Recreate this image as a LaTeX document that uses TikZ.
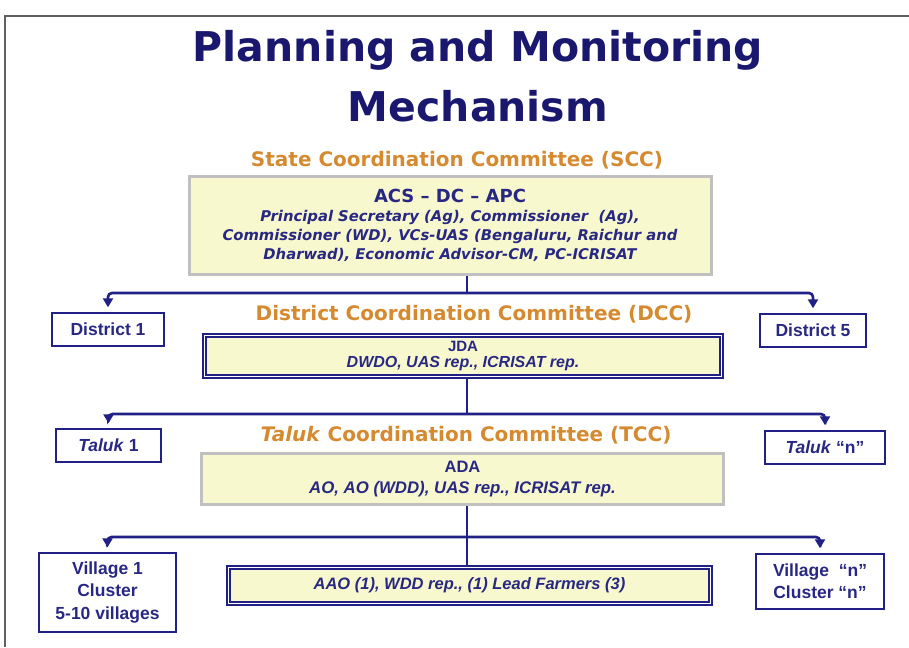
\documentclass[tikz,border=0pt]{standalone}
\usepackage{fontspec}
\setmainfont{DejaVu Sans}
\newfontfamily\headfont{Liberation Sans}
\usetikzlibrary{arrows.meta, positioning}
\definecolor{titlenavy}{RGB}{26,24,110}
\definecolor{headorange}{RGB}{214,138,48}
\definecolor{textnavy}{RGB}{40,40,132}
\definecolor{linenavy}{RGB}{32,32,134}
\definecolor{boxyellow}{RGB}{248,248,206}
\definecolor{shadowgray}{RGB}{192,192,192}
\definecolor{framegray}{RGB}{96,96,96}

\begin{document}
\begin{tikzpicture}[x=1pt, y=-1pt,
    maintitle/.style = {align=center, inner sep=0pt, text=titlenavy, font=\fontsize{41}{60}\selectfont\bfseries},
    heading/.style = {inner sep=0pt, text=headorange, font=\fontsize{20}{24}\selectfont\bfseries},
    yellowbox/.style = {rectangle, draw=shadowgray, line width=3pt, fill=boxyellow, align=center, text=textnavy, inner sep=1pt},
    dblbox/.style = {rectangle, draw=linenavy, line width=1.8pt, double=white, double distance=1.6pt, fill=boxyellow, align=center, text=textnavy, inner sep=0pt},
    sidebox/.style = {rectangle, draw=linenavy, line width=1.4pt, fill=white, align=center, text=textnavy, inner sep=1pt, font=\headfont\fontsize{17.5}{22.5}\selectfont\bfseries},
    conn/.style = {draw=linenavy, line width=2.6pt, rounded corners=4pt},
    arr/.style = {conn, ->, shorten >=5pt},
    >={Triangle[length=9pt, width=10pt]}]

\useasboundingbox (0,0) rectangle (909,647);
\draw[framegray, line width=1.5pt] (5,647) -- (5,16) -- (909,16);

\node[maintitle] (A) at (478,76.5) {Planning and Monitoring\\Mechanism};
\node[heading] (B) at (457,160) {State Coordination Committee (SCC)};
\node[yellowbox, minimum width=522pt, minimum height=98pt, font=\fontsize{14.8}{19}\selectfont\bfseries\itshape] (C) at (450,225.5) {{\fontsize{18}{19}\selectfont\upshape ACS -- DC -- APC}\\Principal Secretary (Ag), Commissioner~ (Ag),\\Commissioner (WD), VCs-UAS (Bengaluru, Raichur and\\Dharwad), Economic Advisor-CM, PC-ICRISAT};
\coordinate (c1) at (467,293);
\node[sidebox, minimum width=112pt, minimum height=33pt] (D) at (108,329.5) {District 1};
\node[sidebox, minimum width=106pt, minimum height=33pt] (E) at (813,330.5) {District 5};
\node[heading] (F) at (474,314) {District Coordination Committee (DCC)};
\node[dblbox, minimum width=517pt, minimum height=41pt, font=\headfont\fontsize{16}{16.5}\selectfont\bfseries\itshape] (G) at (463,356) {{\fontsize{15}{16.5}\selectfont\upshape JDA}\\DWDO, UAS rep., ICRISAT rep.};
\coordinate (c2) at (467,414);
\node[sidebox, minimum width=105pt, minimum height=33pt] (H) at (108.5,445.5) {\textit{Taluk} 1};
\node[sidebox, minimum width=120pt, minimum height=33pt] (I) at (825,447.5) {\textit{Taluk} “n”};
\node[heading] (J) at (466,435) {\textit{Taluk} Coordination Committee (TCC)};
\node[yellowbox, minimum width=522pt, minimum height=51pt, font=\headfont\fontsize{16.8}{21}\selectfont\bfseries\itshape] (K) at (462.5,479) {{\fontsize{16.5}{21}\selectfont\upshape ADA}\\AO, AO (WDD), UAS rep., ICRISAT rep.};
\coordinate (c3) at (467,537);
\node[sidebox, minimum width=137pt, minimum height=79pt] (L) at (107.5,592.5) {Village 1\\Cluster\\5-10 villages};
\node[sidebox, minimum width=128pt, minimum height=55pt, font=\headfont\fontsize{17.5}{22}\selectfont\bfseries] (M) at (820,581.5) {Village~ “n”\\Cluster “n”};
\node[dblbox, minimum width=482pt, minimum height=36pt, font=\headfont\fontsize{16.5}{18}\selectfont\bfseries\itshape] (N) at (469.5,585.5) {AAO (1), WDD rep., (1) Lead Farmers (3)};

%connectors
\draw[conn] (C.south -| c1) -- (c1);
\draw[arr] (c1) -| (D);
\draw[arr] (c1) -| (E);
\draw[conn] (G.south -| c2) -- (c2);
\draw[arr] (c2) -| (H);
\draw[arr] (c2) -| (I);
\draw[conn] (K.south -| c3) -- (N.north -| c3);
\draw[arr] (c3) -| (L);
\draw[arr] (c3) -| (M);
\end{tikzpicture}
\end{document}
